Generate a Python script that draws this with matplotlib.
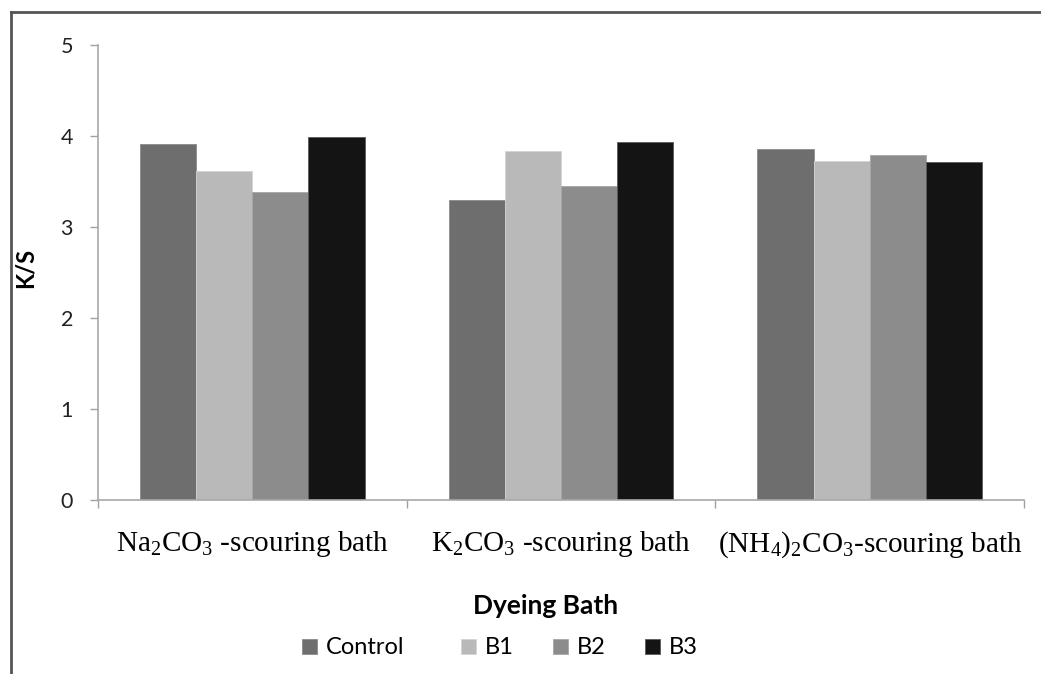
import matplotlib
matplotlib.use("Agg")
import matplotlib.pyplot as plt
import numpy as np
from matplotlib.lines import Line2D

plt.rcParams['mathtext.fontset'] = 'custom'
plt.rcParams['mathtext.rm'] = 'Liberation Serif'
plt.rcParams['mathtext.it'] = 'Liberation Serif:italic'
plt.rcParams['mathtext.bf'] = 'Liberation Serif:bold'

categories = [r'Na$_2$CO$_3$ -scouring bath', r'K$_2$CO$_3$ -scouring bath',
              r'(NH$_4$)$_2$CO$_3$-scouring bath']
series_names = ['Control', 'B1', 'B2', 'B3']
control = [3.91, 3.30, 3.86]
b1 = [3.61, 3.84, 3.72]
b2 = [3.39, 3.45, 3.79]
b3 = [3.99, 3.93, 3.71]
yticks = [0, 1, 2, 3, 4, 5]

colors = ['#6e6e6e', '#b9b9b9', '#8c8c8c', '#141414']
edges = ['#8a8a8a', '#d4d4d4', '#a6a6a6', '#5a5a5a']

W, H = 1041, 674
fig = plt.figure(figsize=(W / 100, H / 100), dpi=100)
ax = fig.add_axes([98/W, 1 - 500/H, (1024-98)/W, (500-45)/H])

x = np.arange(len(categories))
bw = 1 / (4 + 1.5)
data = [control, b1, b2, b3]
handles = []
for i, (vals, name) in enumerate(zip(data, series_names)):
    h = ax.bar(x + (i - 1.5) * bw, vals, width=bw, color=colors[i], label=name,
               edgecolor=edges[i], linewidth=0.6)
    handles.append(h)

ax.set_xlim(-0.5, len(categories) - 0.5)
ax.set_ylim(0, 5)
ax.set_yticks(yticks)
ax.set_yticklabels([str(t) for t in yticks], fontfamily='Lato', fontsize=15.5,
                   color='#222222')
ax.set_xticks(x)
ax.set_xticklabels(categories, fontfamily='Liberation Serif', fontsize=21)
ax.tick_params(axis='x', which='major', length=0, pad=21)
ax.set_xticks(np.arange(len(categories) + 1) - 0.5, minor=True)
ax.tick_params(axis='x', which='minor', length=6, color='#a0a0a0', width=1)
ax.tick_params(axis='y', length=6, color='#a0a0a0', width=1, pad=12)

for s in ['top', 'right']:
    ax.spines[s].set_visible(False)
for s in ['left', 'bottom']:
    ax.spines[s].set_color('#a8a8a8')
    ax.spines[s].set_linewidth(1.2)

ax.set_ylabel('K/S', fontfamily='Lato', fontweight='bold', fontsize=17)
ax.yaxis.set_label_coords(37/W, 1 - 268/H, transform=fig.transFigure)
fig.text(546/W, 1 - 606/H, 'Dyeing Bath', fontfamily='Lato', fontweight='bold',
         fontsize=19, ha='center', va='center')

# legend entries (Excel-like spacing)
marker_x = [302, 461, 553, 645]
for h, name, mx in zip(handles, series_names, marker_x):
    fig.legend([h], [name], loc='center left',
               bbox_to_anchor=(mx/W, 1 - 648/H), frameon=False,
               prop={'family': 'Lato', 'size': 17},
               handlelength=0.62, handleheight=0.62, handletextpad=0.38,
               borderaxespad=0, borderpad=0)

# outer border (left and top visible)
fig.add_artist(Line2D([11/W, 11/W], [0, 1 - 12/H], transform=fig.transFigure,
                      color='#555555', linewidth=2))
fig.add_artist(Line2D([11/W, 1], [1 - 12/H, 1 - 12/H], transform=fig.transFigure,
                      color='#555555', linewidth=2))

fig.savefig('out.png', dpi=100)
